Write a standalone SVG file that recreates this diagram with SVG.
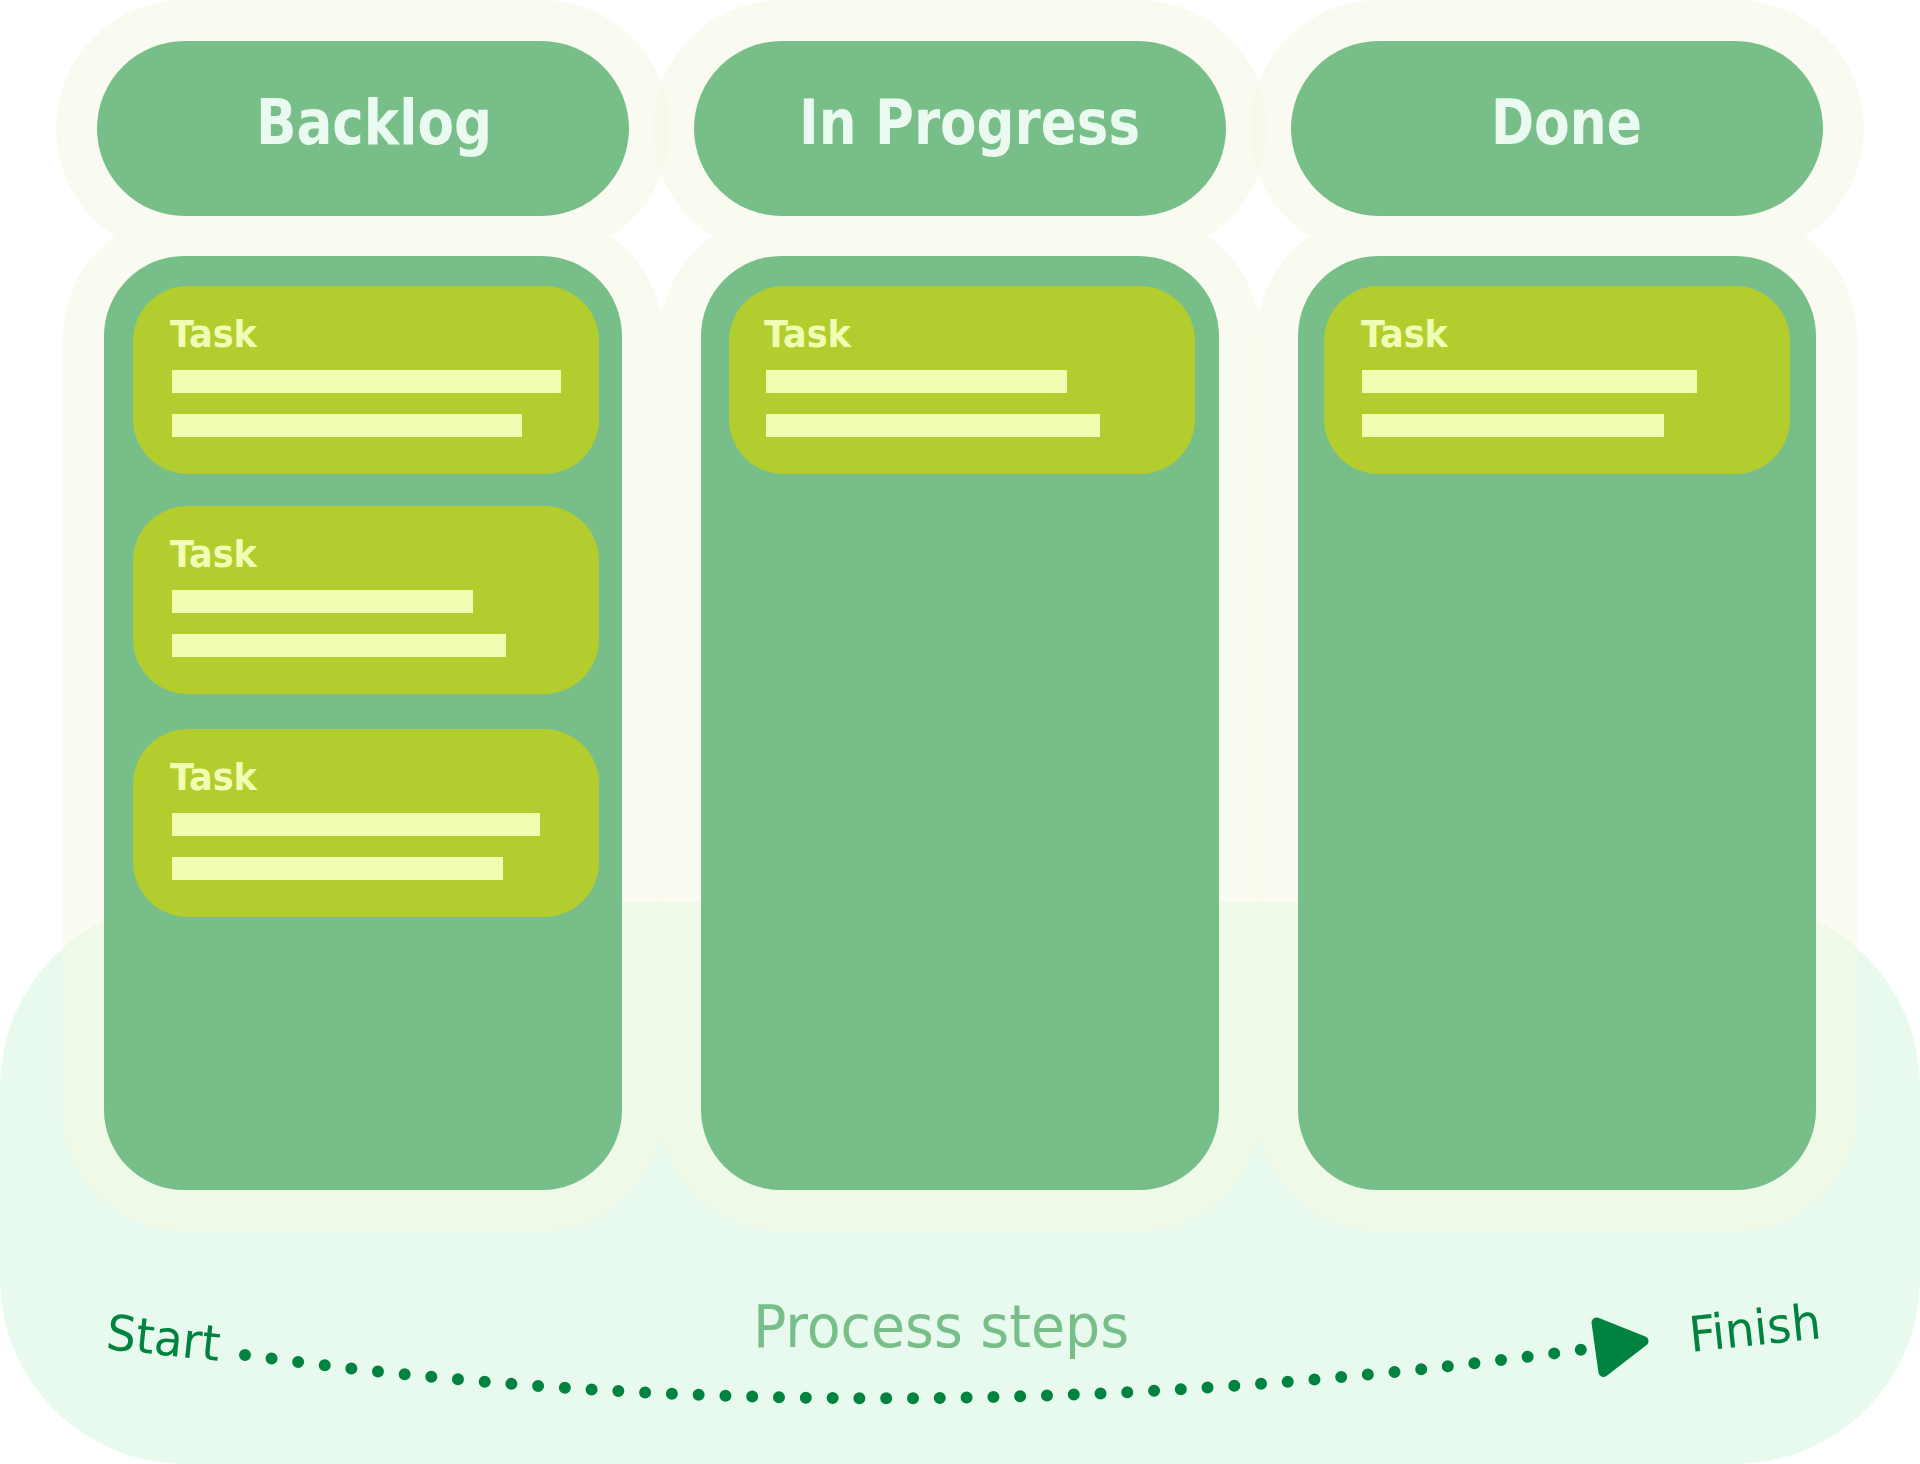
<svg xmlns="http://www.w3.org/2000/svg" width="1920" height="1464" viewBox="0 0 1920 1464">
  <defs>
    <style>
      .halo { fill: #F6F8E0; }
      .haloGrp { opacity: 0.45; }
      .head { fill: #77BE88; }
      .body { fill: #77BE88; }
      .card { fill: #B3CD2F; }
      .bar { fill: #F0FEB4; }
      .htxt { font-family: "DejaVu Sans Condensed", "DejaVu Sans", sans-serif; font-weight: bold; font-size: 62px; fill: #EAFAF0; }
      .ttxt { font-family: "DejaVu Sans Condensed", "DejaVu Sans", sans-serif; font-weight: bold; font-size: 38px; fill: #F0FEB4; }
      .ptxt { font-family: "DejaVu Sans Condensed", "DejaVu Sans", sans-serif; font-size: 58px; fill: #77BE88; }
      .etxt { font-family: "DejaVu Sans Condensed", "DejaVu Sans", sans-serif; font-size: 49px; fill: #00833F; }
      .flow { fill: none; stroke: #00833F; stroke-width: 12; stroke-linecap: round; stroke-dasharray: 0 26.8; }
    </style>
    <marker id="arrow" markerUnits="userSpaceOnUse" markerWidth="70" markerHeight="80" viewBox="0 -40 70 80" refX="0" refY="0" orient="auto" overflow="visible">
      <polygon points="5,-25 49,0 5,25" fill="#00833F" stroke="#00833F" stroke-width="10" stroke-linejoin="round"/>
    </marker>
  </defs>

  <!-- bottom panel -->
  <g id="panel">
    <rect x="0" y="902" width="1920" height="562" rx="185" ry="185" fill="#E8FAEE"/>
    <text class="ptxt" x="753" y="1347" textLength="376" lengthAdjust="spacingAndGlyphs">Process steps</text>
  </g>

  <!-- column halos -->
  <g id="halo-backlog" class="haloGrp">
    <rect class="halo" x="56" y="0" width="614" height="257" rx="128.5"/>
    <rect class="halo" x="63" y="215" width="600" height="1016" rx="121"/>
  </g>
  <g id="halo-inprogress" class="haloGrp">
    <rect class="halo" x="653" y="0" width="614" height="257" rx="128.5"/>
    <rect class="halo" x="660" y="215" width="600" height="1016" rx="121"/>
  </g>
  <g id="halo-done" class="haloGrp">
    <rect class="halo" x="1250" y="0" width="614" height="257" rx="128.5"/>
    <rect class="halo" x="1257" y="215" width="600" height="1016" rx="121"/>
  </g>

  <!-- Backlog column -->
  <g id="col-backlog">
    <rect class="head" x="97" y="41" width="532" height="175" rx="87.5"/>
    <text class="htxt" x="256" y="144" textLength="236" lengthAdjust="spacingAndGlyphs">Backlog</text>
    <rect class="body" x="104" y="256" width="518" height="934" rx="80"/>
  </g>
  <g id="backlog-task-1">
    <rect class="card" x="133" y="286" width="466" height="188" rx="55"/>
    <text class="ttxt" x="170" y="347" textLength="87" lengthAdjust="spacingAndGlyphs">Task</text>
    <rect class="bar" x="172" y="370" width="389" height="23"/>
    <rect class="bar" x="172" y="414" width="350" height="23"/>
  </g>
  <g id="backlog-task-2">
    <rect class="card" x="133" y="506" width="466" height="188" rx="55"/>
    <text class="ttxt" x="170" y="567" textLength="87" lengthAdjust="spacingAndGlyphs">Task</text>
    <rect class="bar" x="172" y="590" width="301" height="23"/>
    <rect class="bar" x="172" y="634" width="334" height="23"/>
  </g>
  <g id="backlog-task-3">
    <rect class="card" x="133" y="729" width="466" height="188" rx="55"/>
    <text class="ttxt" x="170" y="790" textLength="87" lengthAdjust="spacingAndGlyphs">Task</text>
    <rect class="bar" x="172" y="813" width="368" height="23"/>
    <rect class="bar" x="172" y="857" width="331" height="23"/>
  </g>

  <!-- In Progress column -->
  <g id="col-inprogress">
    <rect class="head" x="694" y="41" width="532" height="175" rx="87.5"/>
    <text class="htxt" x="799" y="144" textLength="341" lengthAdjust="spacingAndGlyphs">In Progress</text>
    <rect class="body" x="701" y="256" width="518" height="934" rx="80"/>
  </g>
  <g id="inprogress-task-1">
    <rect class="card" x="729" y="286" width="466" height="188" rx="55"/>
    <text class="ttxt" x="764" y="347" textLength="87" lengthAdjust="spacingAndGlyphs">Task</text>
    <rect class="bar" x="766" y="370" width="301" height="23"/>
    <rect class="bar" x="766" y="414" width="334" height="23"/>
  </g>

  <!-- Done column -->
  <g id="col-done">
    <rect class="head" x="1291" y="41" width="532" height="175" rx="87.5"/>
    <text class="htxt" x="1491" y="144" textLength="151" lengthAdjust="spacingAndGlyphs">Done</text>
    <rect class="body" x="1298" y="256" width="518" height="934" rx="80"/>
  </g>
  <g id="done-task-1">
    <rect class="card" x="1324" y="286" width="466" height="188" rx="55"/>
    <text class="ttxt" x="1361" y="347" textLength="87" lengthAdjust="spacingAndGlyphs">Task</text>
    <rect class="bar" x="1362" y="370" width="335" height="23"/>
    <rect class="bar" x="1362" y="414" width="302" height="23"/>
  </g>

  <!-- process flow -->
  <g id="connectors">
    <path class="flow" d="M245,1355 Q895,1445 1594,1348"/>
    <path d="M1594,1348 L1595,1347.86" fill="none" stroke="none" marker-end="url(#arrow)"/>
  </g>
  <g id="label-start">
    <text class="etxt" transform="translate(105,1349) rotate(6)" textLength="114" lengthAdjust="spacingAndGlyphs">Start</text>
  </g>
  <g id="label-finish">
    <text class="etxt" transform="translate(1691,1352) rotate(-6)" textLength="132" lengthAdjust="spacingAndGlyphs">Finish</text>
  </g>
</svg>
